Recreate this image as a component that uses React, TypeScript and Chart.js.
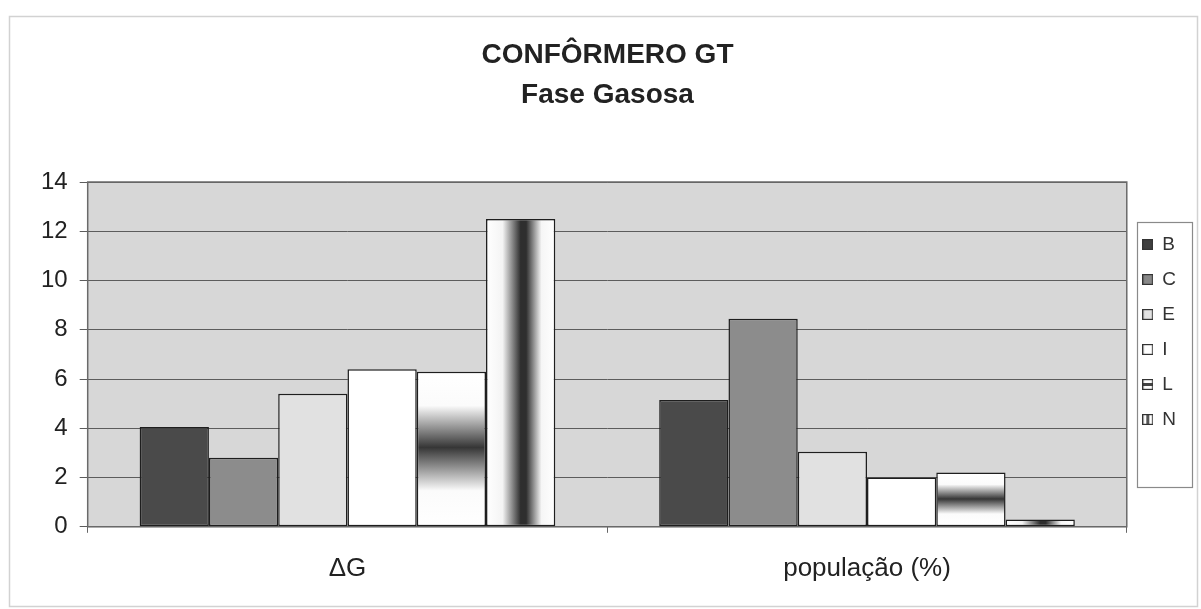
import React, { useEffect, useRef } from 'react';
import { Chart, registerables } from 'chart.js';

Chart.register(...registerables);

const categories = ['ΔG', 'população (%)'];
const seriesNames = ['B', 'C', 'E', 'I', 'L', 'N'];
const valuesB = [4.05, 5.15];
const valuesC = [2.8, 8.45];
const valuesE = [5.4, 3.05];
const valuesI = [6.4, 2.0];
const valuesL = [6.3, 2.2];
const valuesN = [12.5, 0.3];
const yMin = 0;
const yMax = 14;
const yStep = 2;

const FONT = '"Liberation Sans", Arial, Helvetica, sans-serif';

function vGradient(ctx: any) {
  const el = ctx.element;
  if (!el || el.y == null || el.base == null || !isFinite(el.y) || !isFinite(el.base)) return '#ffffff';
  const g = ctx.chart.ctx.createLinearGradient(0, el.y, 0, el.base);
  g.addColorStop(0, '#ffffff');
  g.addColorStop(0.22, '#fbfbfb');
  g.addColorStop(0.49, '#363636');
  g.addColorStop(0.77, '#fbfbfb');
  g.addColorStop(1, '#ffffff');
  return g;
}

function hGradient(ctx: any) {
  const el = ctx.element;
  if (!el || el.x == null || el.width == null || !isFinite(el.x)) return '#ffffff';
  const left = el.x - el.width / 2;
  const g = ctx.chart.ctx.createLinearGradient(left, 0, left + el.width, 0);
  g.addColorStop(0, '#ffffff');
  g.addColorStop(0.24, '#f4f4f4');
  g.addColorStop(0.5, '#2e2e2e');
  g.addColorStop(0.58, '#2e2e2e');
  g.addColorStop(0.8, '#f6f6f6');
  g.addColorStop(1, '#ffffff');
  return g;
}

function makeSwatch(kind: string) {
  const c = document.createElement('canvas');
  c.width = 11;
  c.height = 11;
  const x = c.getContext('2d') as CanvasRenderingContext2D;
  const fills: Record<string, string> = { B: '#3f3f3f', C: '#888888', E: '#e2e2e2', I: '#ffffff', L: '#ffffff', N: '#ffffff' };
  x.fillStyle = fills[kind];
  x.fillRect(0, 0, 11, 11);
  x.strokeStyle = '#333';
  x.lineWidth = 1.2;
  if (kind === 'L') {
    x.fillStyle = '#444';
    x.fillRect(1, 4, 9, 3);
  }
  if (kind === 'N') {
    x.fillStyle = '#555';
    x.fillRect(4, 1, 3, 9);
  }
  x.strokeRect(0.6, 0.6, 9.8, 9.8);
  return c;
}

const bgPlugin = {
  id: 'bgPlugin',
  beforeDraw(chart: any) {
    const { ctx, chartArea } = chart;
    ctx.save();
    ctx.fillStyle = '#ffffff';
    ctx.fillRect(0, 0, chart.width, chart.height);
    ctx.strokeStyle = '#d2d2d2';
    ctx.lineWidth = 1.5;
    ctx.strokeRect(9.5, 16.5, 1188, 590);
    ctx.fillStyle = '#d7d7d7';
    ctx.fillRect(chartArea.left, chartArea.top, chartArea.right - chartArea.left, chartArea.bottom - chartArea.top);
    ctx.restore();
  },
  beforeDatasetsDraw(chart: any) {
    const { ctx, chartArea } = chart;
    ctx.save();
    ctx.strokeStyle = '#6a6a6a';
    ctx.lineWidth = 1.5;
    ctx.strokeRect(chartArea.left, chartArea.top, chartArea.right - chartArea.left, chartArea.bottom - chartArea.top);
    ctx.restore();
  },
  afterDraw(chart: any) {
    const lg = chart.legend;
    if (!lg || !lg.legendHitBoxes || !lg.legendHitBoxes.length) return;
    const hb = lg.legendHitBoxes;
    let left = Infinity, top = Infinity, bottom = -Infinity;
    hb.forEach((h: any) => {
      left = Math.min(left, h.left);
      top = Math.min(top, h.top);
      bottom = Math.max(bottom, h.top + h.height);
    });
    const ctx = chart.ctx;
    ctx.save();
    ctx.strokeStyle = '#8a8a8a';
    ctx.lineWidth = 1.2;
    const x0 = Math.round(left - 6) + 0.5;
    const y0 = Math.round(top - 13) + 0.5;
    const x1 = 1192.5;
    const y1 = Math.round(bottom + 58) + 0.5;
    ctx.strokeRect(x0, y0, x1 - x0, y1 - y0);
    ctx.restore();
  },
};

export default function App() {
  const ref = useRef<HTMLCanvasElement | null>(null);

  useEffect(() => {
    if (!ref.current) return;
    const swatches: Record<string, HTMLCanvasElement> = {};
    seriesNames.forEach((n) => (swatches[n] = makeSwatch(n)));

    const seriesValues = [valuesB, valuesC, valuesE, valuesI, valuesL, valuesN];
    const fills: any[] = ['#4a4a4a', '#8c8c8c', '#e1e1e1', '#ffffff', vGradient, hGradient];

    const chart = new Chart(ref.current, {
      type: 'bar',
      data: {
        labels: categories,
        datasets: seriesNames.map((name, i) => ({
          label: name,
          data: seriesValues[i],
          backgroundColor: fills[i],
          borderColor: '#1e1e1e',
          borderWidth: 1.5,
          borderSkipped: false,
          barPercentage: 1.0,
          categoryPercentage: 0.8,
        })),
      },
      options: {
        responsive: false,
        animation: false,
        devicePixelRatio: 1,
        layout: { padding: { left: 29, right: 15, top: 0, bottom: 5 } },
        plugins: {
          title: {
            display: true,
            text: ['CONFÔRMERO GT', 'Fase Gasosa'],
            color: '#222',
            font: { family: FONT, size: 28, weight: 'bold', lineHeight: 40 / 28 },
            padding: { top: 35, bottom: 67 },
          },
          legend: {
            display: true,
            position: 'right',
            align: 'start',
            fullSize: false,
            title: { display: true, text: '', font: { size: 10, lineHeight: 1 }, padding: { top: 27, bottom: 0 } },
            labels: {
              usePointStyle: true,
              boxWidth: 10,
              padding: 16,
              color: '#333',
              font: { family: FONT, size: 19 },
              generateLabels: () =>
                seriesNames.map((n, i) => ({
                  text: n,
                  pointStyle: swatches[n],
                  fillStyle: '#fff',
                  strokeStyle: '#333',
                  lineWidth: 0,
                  hidden: false,
                  datasetIndex: i,
                  fontColor: '#333',
                })),
            },
          },
          tooltip: { enabled: false },
        },
        scales: {
          x: {
            type: 'category',
            grid: { display: true, drawOnChartArea: false, drawTicks: true, tickLength: 6, color: '#666', offset: true },
            border: { display: false },
            ticks: { color: '#222', font: { family: FONT, size: 26 }, padding: 20, maxRotation: 0 },
          },
          y: {
            min: yMin,
            max: yMax,
            grid: { color: '#5c5c5c', lineWidth: 1, tickLength: 8, drawTicks: true },
            border: { display: false },
            ticks: { stepSize: yStep, color: '#222', font: { family: FONT, size: 24 }, padding: 12 },
          },
        },
      },
      plugins: [bgPlugin],
    });
    chart.update();

    return () => chart.destroy();
  }, []);

  return (
    <div style={{ position: 'absolute', left: 0, top: 0, width: 1201, height: 609 }}>
      <canvas ref={ref} width={1201} height={609} style={{ display: 'block', width: 1201, height: 609 }} />
    </div>
  );
}
